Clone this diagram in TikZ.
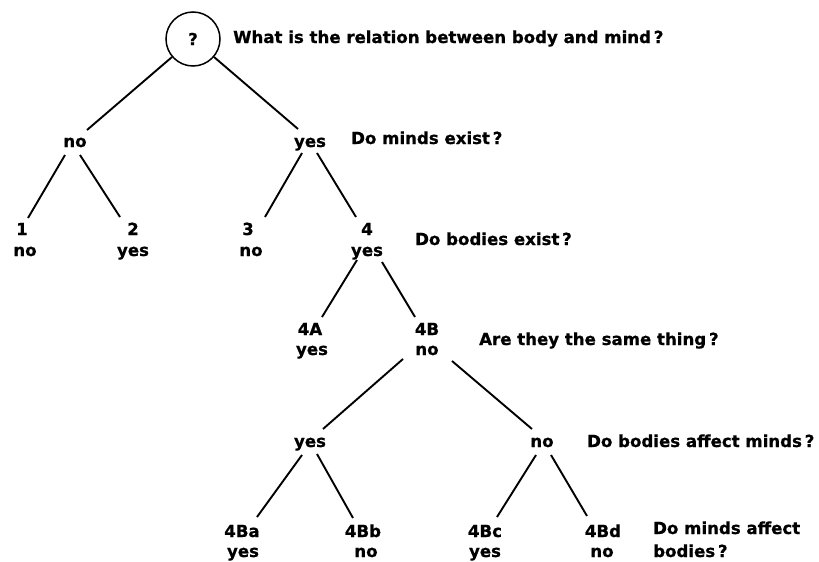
\documentclass[tikz,border=0pt]{standalone}
\usepackage{fontspec}
\setmainfont{DejaVu Sans}[BoldFeatures={FakeBold=0.8}]
\begin{document}
\begin{tikzpicture}[x=1pt,y=-1pt,
  every node/.style={font=\fontsize{16.6pt}{23pt}\selectfont\bfseries, inner sep=0pt},
  lab/.style={anchor=base},
  ask/.style={anchor=base west, align=left},
  edge/.style={line width=1.9pt},
  rootnode/.style={circle, draw, line width=1.5pt, minimum size=54pt}]
\useasboundingbox (0,0) rectangle (819,562);

% root question
\node[rootnode] (root) at (193,39) {?};
\node[ask] (q0) at (233,43) {What is the relation between body and mind\,?};

% level 1
\node[lab] (a) at (75,147) {no};
\node[lab] (b) at (310,147) {yes};
\node[ask] (q1) at (351,144) {Do minds exist\,?};

% level 2
\node[lab] (c1) at (22,235) {1};
\node[lab] (c1x) at (25,256) {no};
\node[lab] (c2) at (133,235) {2};
\node[lab] (c2x) at (133,256) {yes};
\node[lab] (c3) at (248,235) {3};
\node[lab] (c3x) at (251,256) {no};
\node[lab] (c4) at (367,235) {4};
\node[lab] (c4x) at (367,256) {yes};
\node[ask] (q2) at (415,245) {Do bodies exist\,?};

% level 3
\node[lab] (d1) at (310,335) {4A};
\node[lab] (d1x) at (312,355) {yes};
\node[lab] (d2) at (427,335) {4B};
\node[lab] (d2x) at (427,355) {no};
\node[ask] (q3) at (479,345) {Are they the same thing\,?};

% level 4
\node[lab] (e1) at (310,447) {yes};
\node[lab] (e2) at (542,447) {no};
\node[ask] (q4) at (587,447) {Do bodies affect minds\,?};

% level 5
\node[lab] (f1) at (242,537) {4Ba};
\node[lab] (f1x) at (243,557) {yes};
\node[lab] (f2) at (363,537) {4Bb};
\node[lab] (f2x) at (366,557) {no};
\node[lab] (f3) at (485,537) {4Bc};
\node[lab] (f3x) at (485,557) {yes};
\node[lab] (f4) at (603,537) {4Bd};
\node[lab] (f4x) at (602,557) {no};
% base anchor of a two-line node sits on its last line
\node[ask] (q5) at (653,557) {Do minds affect\\bodies\,?};

% branches
\draw[edge] ([shift={(-21,18)}]root.center) -- ([shift={(12,-17)}]a.base);
\draw[edge] ([shift={(21,18)}]root.center) -- ([shift={(-12,-18)}]b.base);
\draw[edge] ([shift={(-10,8)}]a.base) -- ([shift={(6,-17)}]c1.base);
\draw[edge] ([shift={(5,8)}]a.base) -- ([shift={(-13,-18)}]c2.base);
\draw[edge] ([shift={(-8,6)}]b.base) -- ([shift={(17,-18)}]c3.base);
\draw[edge] ([shift={(7,6)}]b.base) -- ([shift={(-11,-18)}]c4.base);
\draw[edge] ([shift={(-10,4)}]c4x.base) -- ([shift={(12,-18)}]d1.base);
\draw[edge] ([shift={(15,6)}]c4x.base) -- ([shift={(-12,-18)}]d2.base);
\draw[edge] ([shift={(-24,4)}]d2x.base) -- ([shift={(13,-18)}]e1.base);
\draw[edge] ([shift={(25,6)}]d2x.base) -- ([shift={(-10,-18)}]e2.base);
\draw[edge] ([shift={(-8,8)}]e1.base) -- ([shift={(15,-20)}]f1.base);
\draw[edge] ([shift={(7,7)}]e1.base) -- ([shift={(-10,-19)}]f2.base);
\draw[edge] ([shift={(-6,8)}]e2.base) -- ([shift={(12,-20)}]f3.base);
\draw[edge] ([shift={(9,8)}]e2.base) -- ([shift={(-16,-21)}]f4.base);
\end{tikzpicture}
\end{document}
